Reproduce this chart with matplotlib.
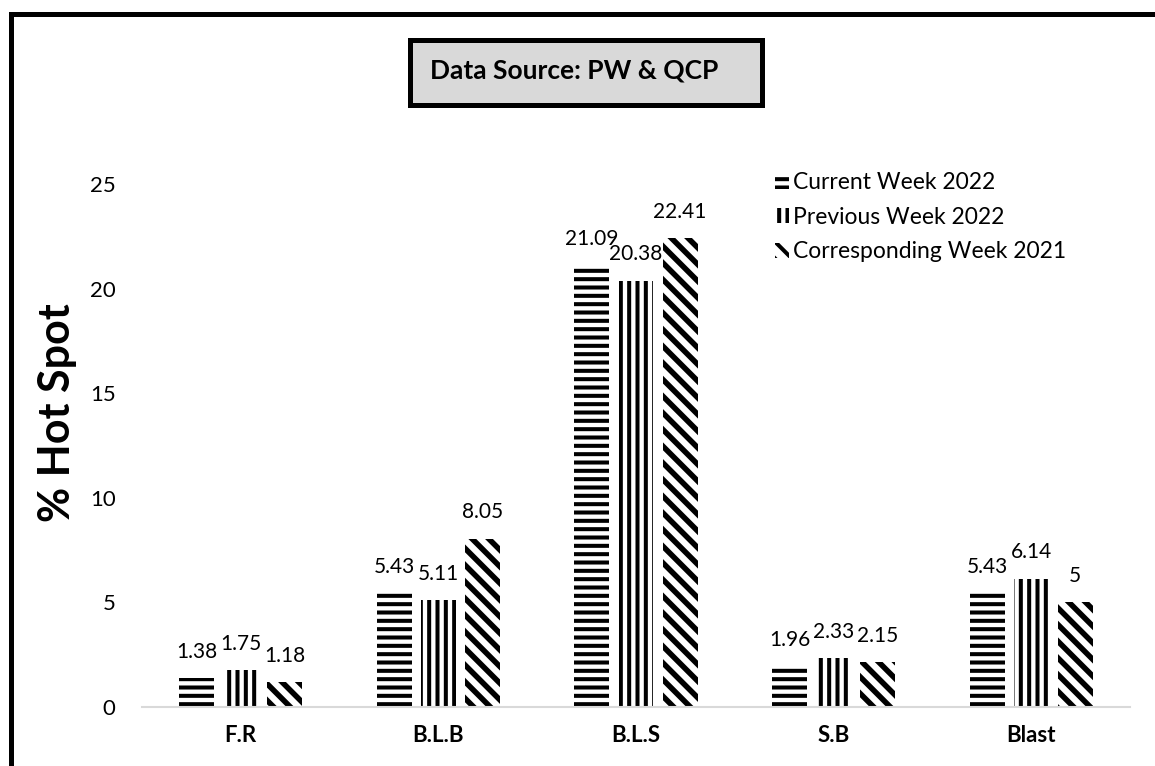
import numpy as np
import matplotlib
matplotlib.use("Agg")
import matplotlib.pyplot as plt
from matplotlib.patches import Rectangle

categories = ["F.R", "B.L.B", "B.L.S", "S.B", "Blast"]
current_week = [1.38, 5.43, 21.09, 1.96, 5.43]
previous_week = [1.75, 5.11, 20.38, 2.33, 6.14]
corresponding_week = [1.18, 8.05, 22.41, 2.15, 5]
series_names = ["Current Week 2022", "Previous Week 2022", "Corresponding Week 2021"]
yticks = [0, 5, 10, 15, 20, 25]

plt.rcParams["font.family"] = ["Lato", "DejaVu Sans"]
plt.rcParams["hatch.linewidth"] = 2.9

W, H = 1155, 766
fig = plt.figure(figsize=(W / 100, H / 100), dpi=100)

def fx(px):
    return px / W

def fy(py):
    return 1 - py / H

ax = fig.add_axes([fx(142), fy(707), fx(1130) - fx(142), fy(184) - fy(707)])

x = np.arange(len(categories))
step = 0.223
width = 0.177
series = [current_week, previous_week, corresponding_week]
hatches = ["--", "||", "\\\\"]
for i, (vals, h, name) in enumerate(zip(series, hatches, series_names)):
    lw = 4.0 if "\\" in h else 2.9
    with plt.rc_context({"hatch.linewidth": lw}):
        ax.bar(x + (i - 1) * step, vals, width, color="white",
               edgecolor="black", linewidth=0, hatch=h, label=name)
    for xi, v in zip(x + (i - 1) * step, vals):
        ax.annotate(f"{v:g}", (xi, v), xytext=(0, 19), textcoords="offset points",
                    ha="center", va="center", fontsize=15)

ax.set_xlim(-0.5, len(categories) - 0.5)
ax.set_ylim(0, 25)
ax.set_yticks(yticks)
ax.set_yticklabels([str(t) for t in yticks], fontsize=16)
ax.set_xticks(x)
ax.set_xticklabels(categories, fontsize=16, fontweight="bold")
ax.tick_params(axis="y", length=0, pad=19)
ax.tick_params(axis="x", length=0, pad=13)
for s in ["top", "right", "left"]:
    ax.spines[s].set_visible(False)
ax.spines["bottom"].set_color("#d9d9d9")
ax.spines["bottom"].set_linewidth(1.5)
ax.patch.set_alpha(0)

fig.text(fx(57), fy(413), "% Hot Spot", rotation=90, ha="center", va="center",
         fontsize=31, fontweight="bold")

fig.legend(loc="upper left", bbox_to_anchor=(fx(775), fy(172)),
           frameon=False, fontsize=16.5, handlelength=0.6, handleheight=0.65,
           handletextpad=0.2, labelspacing=0.6, borderpad=0, borderaxespad=0)

# title box
fig.add_artist(Rectangle((fx(410), fy(105)), fx(762) - fx(410), fy(40) - fy(105),
                         transform=fig.transFigure, facecolor="#d9d9d9",
                         edgecolor="black", linewidth=3.6))
fig.text(fx(574), fy(78), "Data Source: PW & QCP", ha="center", va="baseline",
         fontsize=19, fontweight="bold")

# outer frame (only left and top edges are in view)
fig.add_artist(Rectangle((fx(10.5), fy(800)), fx(1200), fy(14) - fy(800),
                         transform=fig.transFigure, facecolor="none",
                         edgecolor="black", linewidth=3.6, clip_on=False))

fig.savefig("out.png", dpi=100)
